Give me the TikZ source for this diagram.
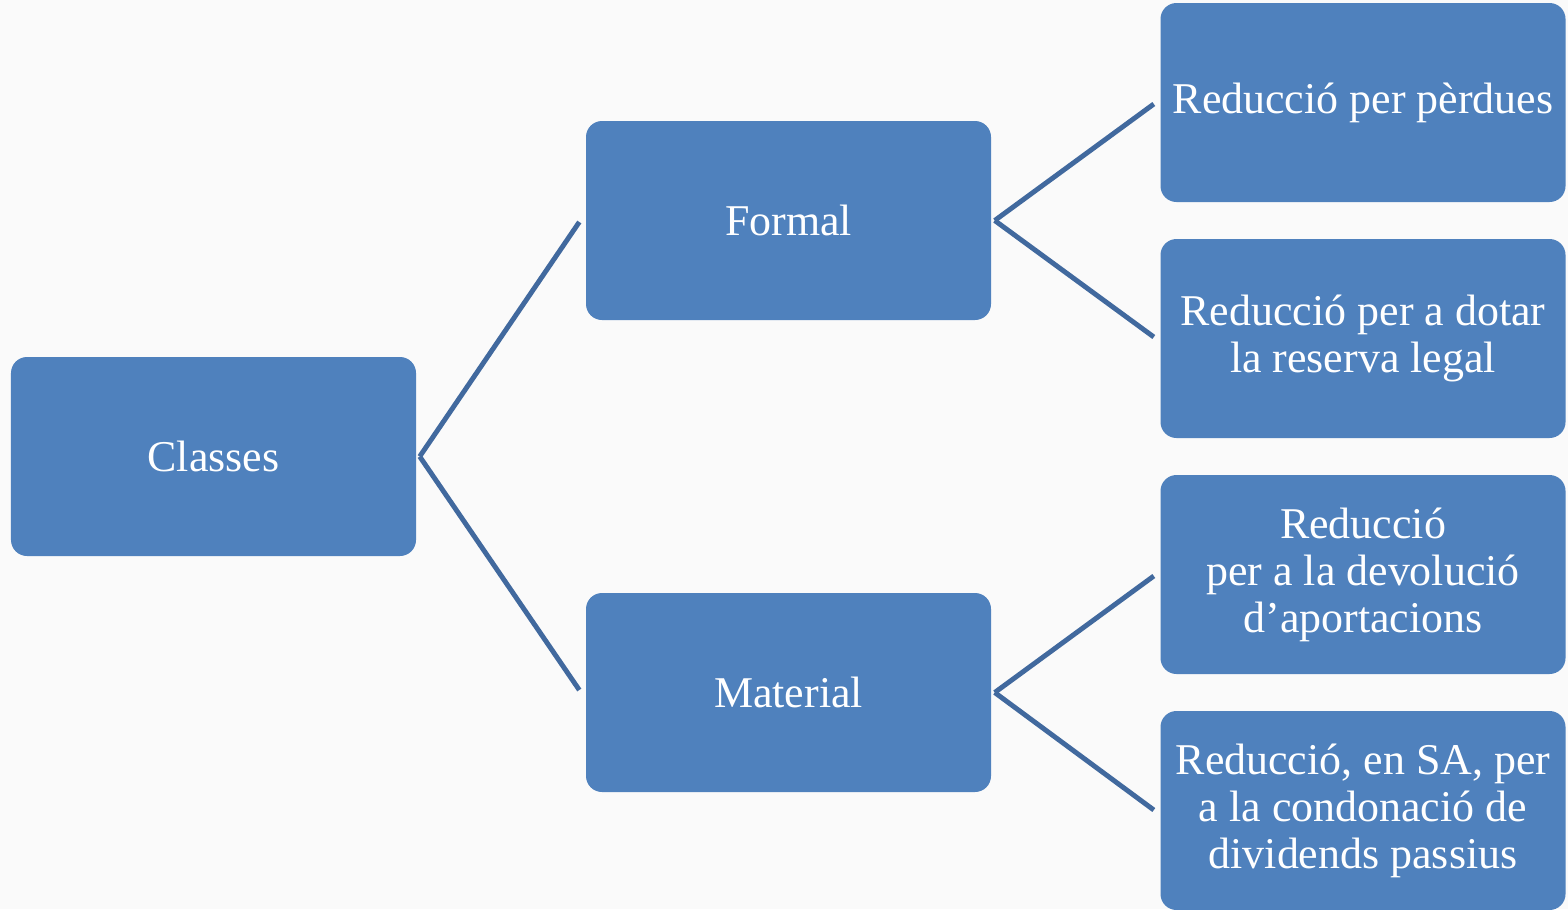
\documentclass[tikz,border=0pt]{standalone}
\usepackage{fontspec}
\setmainfont{Liberation Serif}
\usepackage{tikz}
\usetikzlibrary{positioning}
\definecolor{boxblue}{HTML}{4F81BD}
\definecolor{lineblue}{HTML}{41699E}
\begin{document}
\begin{tikzpicture}[box/.style = {rectangle, rounded corners = 0.16cm, fill = boxblue, text = white, minimum width = 4.05cm, minimum height = 1.99cm, align = center, inner sep = 0pt, font = \fontsize{12.5pt}{13.4pt}\selectfont},
link/.style = {draw = lineblue, line width = 1.4pt}]
\fill[black!2] (0,0) rectangle (15.68,-9.09);
\useasboundingbox (0,0) rectangle (15.68,-9.09);
\node (classes) [box] at (2.135,-4.565) {Classes};
\node (formal) [box] at (7.885,-2.205) {Formal};
\node (material) [box] at (7.885,-6.925) {Material};
\node (perdues) [box] at (13.63,-1.025) {Reducció per pèrdues};
\node (reserva) [box] at (13.63,-3.385) {Reducció per a dotar\\la reserva legal};
\node (aportacions) [box] at (13.63,-5.745) {Reducció\\per a la devolució\\d’aportacions};
\node (dividends) [box] at (13.63,-8.105) {Reducció, en SA, per\\a la condonació de\\dividends passius};
\draw [link] ([xshift=0.03cm]classes.east) -- ([xshift=-0.06cm,yshift=-0.015cm]formal.west);
\draw [link] ([xshift=0.03cm]classes.east) -- ([xshift=-0.06cm,yshift=0.025cm]material.west);
\draw [link] ([xshift=0.03cm]formal.east) -- ([xshift=-0.06cm,yshift=-0.015cm]perdues.west);
\draw [link] ([xshift=0.03cm]formal.east) -- ([xshift=-0.06cm,yshift=0.015cm]reserva.west);
\draw [link] ([xshift=0.03cm]material.east) -- ([xshift=-0.06cm,yshift=-0.015cm]aportacions.west);
\draw [link] ([xshift=0.03cm]material.east) -- ([xshift=-0.06cm,yshift=0.005cm]dividends.west);
\end{tikzpicture}
\end{document}
